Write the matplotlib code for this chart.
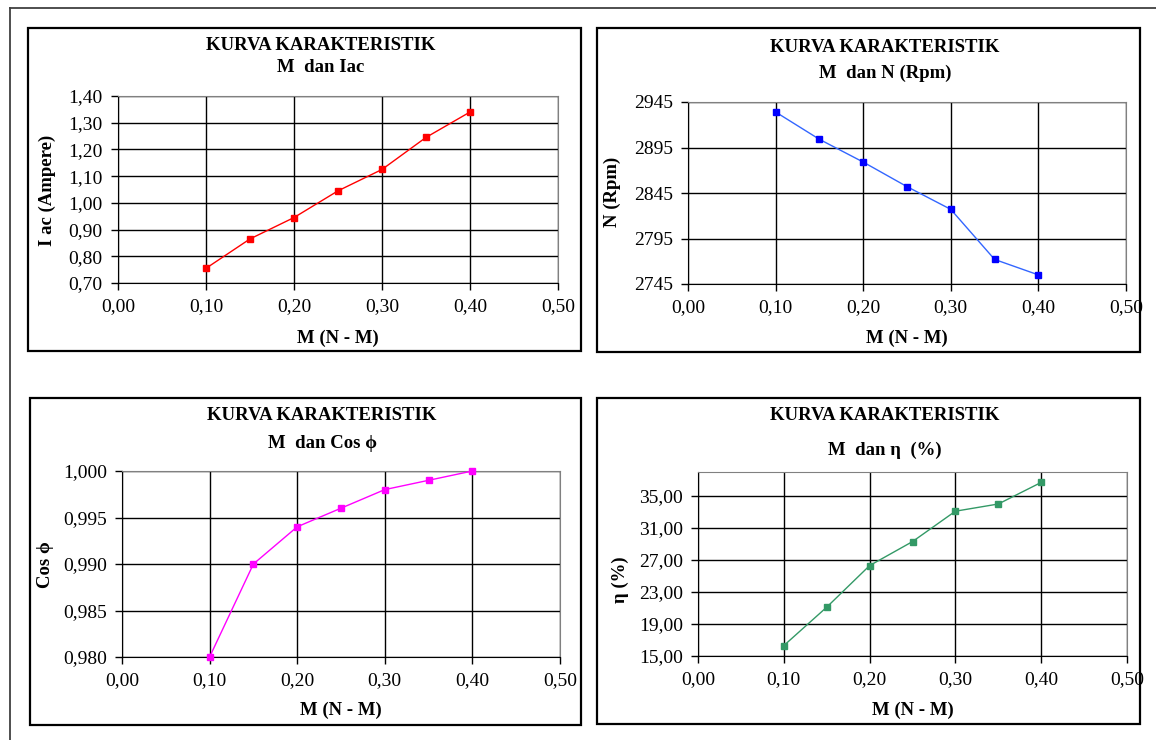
import numpy as np
import matplotlib
matplotlib.use('Agg')
import matplotlib.pyplot as plt
from matplotlib.patches import Rectangle
from matplotlib.lines import Line2D
from matplotlib.ticker import FuncFormatter

plt.rcParams['font.family'] = ['Liberation Serif', 'DejaVu Serif']

# data hasil pengukuran
M = [0.10, 0.15, 0.20, 0.25, 0.30, 0.35, 0.40]
Iac = [0.755, 0.865, 0.945, 1.045, 1.125, 1.245, 1.34]
N_rpm = [2934, 2904, 2879, 2852, 2827, 2772, 2755]
cos_phi = [0.980, 0.990, 0.994, 0.996, 0.998, 0.999, 1.000]
eff = [16.3, 21.1, 26.3, 29.3, 33.1, 34.0, 36.7]

x_ticks = [0.0, 0.1, 0.2, 0.3, 0.4, 0.5]
iac_ticks = [0.70, 0.80, 0.90, 1.00, 1.10, 1.20, 1.30, 1.40]
n_ticks = [2745, 2795, 2845, 2895, 2945]
cos_ticks = [0.980, 0.985, 0.990, 0.995, 1.000]
eff_ticks = [15, 19, 23, 27, 31, 35]

W, H = 1156, 740
fig = plt.figure(figsize=(W / 100, H / 100), dpi=100)
fig.patch.set_facecolor('white')


def fx(px):
    return px / W


def fy(py):
    return 1 - py / H


def koma(dec):
    return FuncFormatter(lambda v, p: ('%.*f' % (dec, v)).replace('.', ','))


# garis bingkai luar
fig.add_artist(Line2D([fx(10), fx(10)], [fy(8), fy(740)], color='#404040', lw=1.3, transform=fig.transFigure))
fig.add_artist(Line2D([fx(10), fx(1156)], [fy(8), fy(8)], color='#404040', lw=1.3, transform=fig.transFigure))


def panel(box, ax_box, x, y, color, mcolor, yticks, ylim, ydec, title2, ylabel, tx, t1y, t2y, xly, yly, ylx):
    # kotak chart
    l, t, r, b = box
    fig.add_artist(Rectangle((fx(l), fy(b)), fx(r - l), (b - t) / H, fill=False,
                             edgecolor='black', lw=1.6, transform=fig.transFigure))
    al, at, ar, ab = ax_box
    ax = fig.add_axes([fx(al), fy(ab), fx(ar - al), (ab - at) / H])
    ax.plot(x, y, color=color, lw=1.0, marker='s', markersize=5,
            markerfacecolor=mcolor, markeredgecolor=mcolor, clip_on=False, zorder=3)
    ax.set_xlim(0, 0.5)
    ax.set_ylim(*ylim)
    ax.set_xticks(x_ticks)
    ax.set_yticks(yticks)
    ax.xaxis.set_major_formatter(koma(2))
    ax.yaxis.set_major_formatter(koma(ydec))
    ax.grid(True, color='black', lw=1.0)
    ax.set_axisbelow(True)
    for s in ['top', 'right']:
        ax.spines[s].set_color('#808080')
    for s in ['left', 'bottom']:
        ax.spines[s].set_color('black')
    ax.tick_params(direction='out', length=5, width=1, labelsize=14, pad=6)
    fig.text(fx(tx), fy(t1y), 'KURVA KARAKTERISTIK', ha='center', va='center',
             fontsize=13.5, fontweight='bold')
    fig.text(fx(tx), fy(t2y), title2, ha='center', va='center',
             fontsize=13.5, fontweight='bold')
    fig.text(fx((al + ar) / 2), fy(xly), 'M (N - M)', ha='center', va='center',
             fontsize=13.5, fontweight='bold')
    fig.text(fx(ylx), fy(yly), ylabel, ha='center', va='center', rotation=90,
             fontsize=13.5, fontweight='bold')
    return ax


panel((28, 28, 581, 351), (118, 96, 558, 283), M, Iac, '#FF0000', '#FF0000',
      iac_ticks, (0.70, 1.40), 2, 'M  dan Iac', 'I ac (Ampere)', 321, 45, 67, 338, 190, 47)
panel((597, 28, 1140, 352), (688, 102, 1126, 284), M, N_rpm, '#3366FF', '#0000FF',
      n_ticks, (2745, 2945), 0, 'M  dan N (Rpm)', 'N (Rpm)', 885, 48, 73, 338, 192, 612)
panel((30, 398, 581, 725), (122, 471, 560, 657), M, cos_phi, '#FF00FF', '#FF00FF',
      cos_ticks, (0.980, 1.000), 3, 'M  dan Cos ϕ', 'Cos ϕ', 322, 415, 443, 710, 565, 45)
panel((597, 398, 1140, 724), (698, 472, 1127, 656), M, eff, '#339966', '#339966',
      eff_ticks, (15, 38), 2, 'M  dan η  (%)', 'η (%)', 885, 415, 450, 710, 580, 620)

fig.savefig('out.png', dpi=100)
